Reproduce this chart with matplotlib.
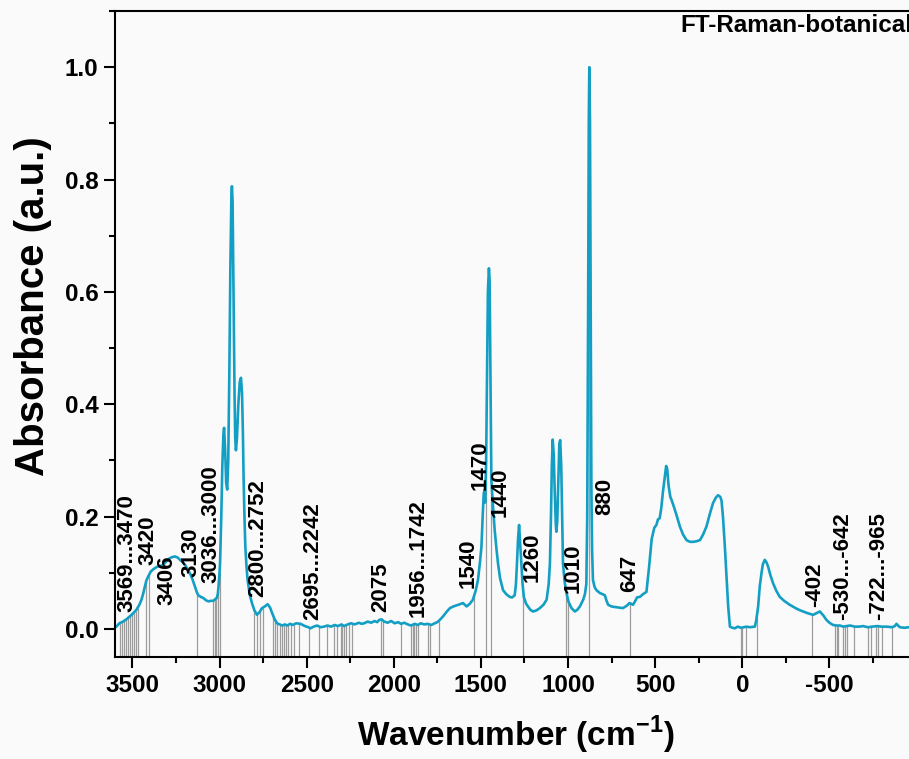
import matplotlib
matplotlib.use("Agg")
import matplotlib.pyplot as plt
from matplotlib.ticker import MultipleLocator, FormatStrFormatter
import numpy as np

# spectrum (wavenumber, absorbance)
wavenumber = [3600, 3592, 3575, 3554, 3535, 3516, 3495, 3477, 3460, 3448, 3437, 3429, 3420, 3410,
              3395, 3381, 3362, 3343, 3330, 3314, 3300, 3285, 3270, 3256, 3240, 3227, 3212, 3198,
              3185, 3170, 3155, 3141, 3130, 3122, 3108, 3093, 3078, 3064, 3050, 3035, 3025, 3016,
              3010, 3006, 3000, 2997, 2990, 2984, 2978, 2974, 2968, 2962, 2956, 2950, 2944, 2938,
              2932, 2929, 2925, 2920, 2914, 2910, 2906, 2900, 2892, 2884, 2877, 2871, 2866, 2862,
              2857, 2852, 2845, 2839, 2826, 2814, 2800, 2785, 2770, 2756, 2740, 2724, 2710, 2698,
              2685, 2670, 2655, 2640, 2625, 2612, 2595, 2580, 2560, 2535, 2510, 2490, 2478, 2460,
              2440, 2420, 2401, 2380, 2360, 2340, 2320, 2300, 2286, 2265, 2245, 2225, 2200, 2185,
              2170, 2150, 2130, 2110, 2095, 2084, 2070, 2055, 2035, 2015, 1995, 1975, 1958, 1940,
              1920, 1901, 1880, 1862, 1845, 1825, 1805, 1785, 1765, 1750, 1736, 1718, 1698, 1678,
              1658, 1638, 1620, 1603, 1582, 1563, 1546, 1530, 1517, 1505, 1497, 1490, 1484, 1480,
              1476, 1470, 1465, 1460, 1454, 1450, 1446, 1442, 1440, 1430, 1421, 1410, 1402, 1390,
              1373, 1355, 1335, 1321, 1306, 1299, 1293, 1287, 1281, 1276, 1268, 1261, 1254, 1241,
              1230, 1216, 1201, 1181, 1162, 1141, 1123, 1111, 1104, 1098, 1093, 1088, 1082, 1076,
              1070, 1067, 1062, 1056, 1050, 1045, 1039, 1034, 1029, 1020, 1009, 997, 980, 961,
              947, 932, 913, 903, 895, 890, 885, 881, 878, 874, 870, 866, 862, 857, 847, 837, 818,
              803, 789, 779, 770, 751, 732, 709, 685, 664, 647, 627, 614, 604, 588, 569, 550, 535,
              520, 505, 493, 484, 474, 465, 455, 445, 437, 431, 423, 413, 404, 390, 375, 358, 340,
              320, 300, 282, 263, 243, 225, 206, 186, 168, 151, 139, 126, 119, 111, 100, 90, 81,
              74, 71, 56, 43, 26, 7, -24, -43, -72, -80, -91, -100, -110, -118, -129, -138, -148,
              -162, -177, -195, -215, -240, -272, -300, -325, -349, -375, -395, -406, -425, -445,
              -465, -483, -500, -521, -540, -560, -580, -598, -620, -645, -670, -693, -720, -745,
              -775, -800, -828, -860, -875, -885, -894, -904, -930, -956, -1000]
absorbance = [0.003, 0.004, 0.010, 0.013, 0.017, 0.022, 0.028, 0.034, 0.043, 0.052, 0.064, 0.075, 0.086, 0.093,
              0.102, 0.106, 0.110, 0.112, 0.113, 0.117, 0.122, 0.126, 0.128, 0.129, 0.127, 0.123, 0.119, 0.114,
              0.107, 0.099, 0.088, 0.075, 0.065, 0.060, 0.057, 0.055, 0.051, 0.049, 0.050, 0.050, 0.053, 0.055,
              0.062, 0.075, 0.100, 0.117, 0.200, 0.290, 0.345, 0.358, 0.320, 0.260, 0.248, 0.300, 0.450, 0.640,
              0.770, 0.788, 0.760, 0.600, 0.420, 0.340, 0.318, 0.340, 0.400, 0.440, 0.447, 0.420, 0.350, 0.270,
              0.200, 0.146, 0.110, 0.087, 0.060, 0.046, 0.033, 0.025, 0.030, 0.037, 0.040, 0.044, 0.038, 0.028,
              0.018, 0.010, 0.008, 0.006, 0.008, 0.006, 0.009, 0.007, 0.010, 0.009, 0.005, 0.003, 0.001, 0.004,
              0.006, 0.003, 0.004, 0.006, 0.004, 0.007, 0.005, 0.008, 0.005, 0.008, 0.010, 0.008, 0.011, 0.009,
              0.010, 0.013, 0.011, 0.014, 0.012, 0.016, 0.017, 0.013, 0.011, 0.014, 0.010, 0.012, 0.009, 0.011,
              0.008, 0.006, 0.009, 0.007, 0.010, 0.008, 0.009, 0.007, 0.010, 0.012, 0.016, 0.022, 0.030, 0.037,
              0.040, 0.042, 0.044, 0.046, 0.040, 0.045, 0.052, 0.068, 0.087, 0.120, 0.146, 0.200, 0.240, 0.247,
              0.225, 0.300, 0.450, 0.600, 0.642, 0.620, 0.480, 0.340, 0.265, 0.215, 0.176, 0.140, 0.117, 0.090,
              0.069, 0.062, 0.057, 0.056, 0.060, 0.080, 0.117, 0.160, 0.185, 0.160, 0.117, 0.080, 0.057, 0.045,
              0.040, 0.034, 0.031, 0.033, 0.037, 0.043, 0.052, 0.080, 0.117, 0.200, 0.290, 0.337, 0.310, 0.240,
              0.185, 0.173, 0.190, 0.260, 0.330, 0.336, 0.290, 0.200, 0.117, 0.085, 0.064, 0.048, 0.037, 0.031,
              0.034, 0.040, 0.052, 0.062, 0.080, 0.200, 0.550, 0.900, 1.000, 0.900, 0.550, 0.250, 0.140, 0.087, 0.074, 0.069, 0.064,
              0.062, 0.060, 0.050, 0.043, 0.040, 0.039, 0.038, 0.037, 0.041, 0.046, 0.043, 0.050, 0.056, 0.057, 0.062, 0.066, 0.110,
              0.160, 0.180, 0.185, 0.195, 0.197, 0.215, 0.245, 0.270, 0.290, 0.285, 0.255, 0.235, 0.228, 0.215, 0.200, 0.182, 0.168,
              0.158, 0.155, 0.155, 0.156, 0.158, 0.168, 0.182, 0.205, 0.224, 0.234, 0.238, 0.235, 0.228, 0.200, 0.146, 0.090, 0.040,
              0.015, 0.004, 0.002, 0.001, 0.004, 0.002, 0.004, 0.003, 0.004, 0.015, 0.040, 0.075, 0.099, 0.115, 0.123, 0.119, 0.111,
              0.095, 0.081, 0.068, 0.057, 0.050, 0.043, 0.038, 0.034, 0.031, 0.028, 0.026, 0.025, 0.028, 0.031,
              0.024, 0.016, 0.011, 0.007, 0.006, 0.006, 0.004, 0.005, 0.006, 0.004, 0.004, 0.005, 0.003, 0.004,
              0.005, 0.004, 0.004, 0.003, 0.005, 0.009, 0.006, 0.003, 0.002, 0.003, 0.003]

# gray drop lines at assigned peaks
peak_lines = [3569, 3558, 3547, 3536, 3525, 3514, 3503, 3492, 3481, 3470, 3420, 3406, 3130,
              3036, 3027, 3018, 3009, 3000, 2800, 2785, 2766, 2752,
              2695, 2680, 2668, 2655, 2642, 2630, 2617, 2605, 2590, 2575, 2545, 2487, 2430, 2381,
              2343, 2324, 2305, 2295, 2286, 2276, 2257, 2242, 2075, 2064,
              1956, 1901, 1891, 1882, 1872, 1862, 1805, 1795, 1742,
              1540, 1470, 1440, 1260, 1010, 1000, 880, 647,
              10, 0, -24, -82, -402,
              -530, -541, -550, -579, -592, -602, -642,
              -722, -736, -766, -779, -799, -862, -965]

label_text = ["3569...3470", "3420", "3406", "3130", "3036...3000", "2800...2752", "2695...2242",
              "2075", "1956...1742", "1540", "1470", "1440", "1260", "1010", "880", "647",
              "-402", "-530...-642", "-722...-965"]
label_x = [3532, 3411, 3302, 3162, 3050, 2780, 2464, 2076, 1862, 1575, 1506, 1391, 1205, 972,
           789, 645, -416, -577, -784]
label_y = [0.030, 0.114, 0.043, 0.093, 0.082, 0.057, 0.016, 0.030, 0.021, 0.073, 0.247, 0.199,
           0.084, 0.064, 0.203, 0.066, 0.039, 0.016, 0.016]

plt.rcParams["font.family"] = ["Liberation Sans", "DejaVu Sans"]
plt.rcParams["font.weight"] = "bold"
plt.rcParams["mathtext.fontset"] = "custom"
plt.rcParams["mathtext.rm"] = "Liberation Sans:bold"
plt.rcParams["mathtext.bf"] = "Liberation Sans:bold"
plt.rcParams["axes.unicode_minus"] = False

bg = "#fafafa"
fig = plt.figure(figsize=(9.09, 7.59), dpi=100, facecolor=bg)
ax = fig.add_axes([0.1265, 0.1344, 0.8818, 0.8511], facecolor=bg)

wn = np.array(wavenumber)
ab = np.array(absorbance)
order = np.argsort(wn)
tops = np.interp(peak_lines, wn[order], ab[order])
ax.vlines(peak_lines, -0.05, tops, color="#9c9c9c", lw=0.9, zorder=1)
ax.plot(wn, ab, color="#139fc4", lw=1.9, zorder=2)

for t, x, y in zip(label_text, label_x, label_y):
    ax.text(x, y, t, rotation=90, ha="center", va="bottom", fontsize=16, fontweight="bold", zorder=3)

ax.set_xlim(3600, -1000)
ax.set_ylim(-0.05, 1.1)
ax.set_xticks(np.arange(3500, -501, -500))
ax.xaxis.set_minor_locator(MultipleLocator(250))
ax.yaxis.set_major_locator(MultipleLocator(0.2))
ax.yaxis.set_minor_locator(MultipleLocator(0.1))
ax.yaxis.set_major_formatter(FormatStrFormatter("%.1f"))
ax.tick_params(which="major", direction="out", length=8, width=1.5, labelsize=17.5, pad=4)
ax.tick_params(which="minor", direction="out", length=4, width=1.5)
for s in ax.spines.values():
    s.set_linewidth(1.5)

ax.set_xlabel(r"Wavenumber (cm$^{\mathbf{-1}}$)", fontsize=24, fontweight="bold", labelpad=12)
ax.set_ylabel("Absorbance (a.u.)", fontsize=29, fontweight="bold", labelpad=9)
ax.yaxis.label.set_y(0.543)

fig.text(680 / 909, 1 - 25 / 759, "FT-Raman-botanical", fontsize=17.5, fontweight="bold",
         ha="left", va="center")

fig.savefig("out.png", dpi=100, facecolor=bg)
